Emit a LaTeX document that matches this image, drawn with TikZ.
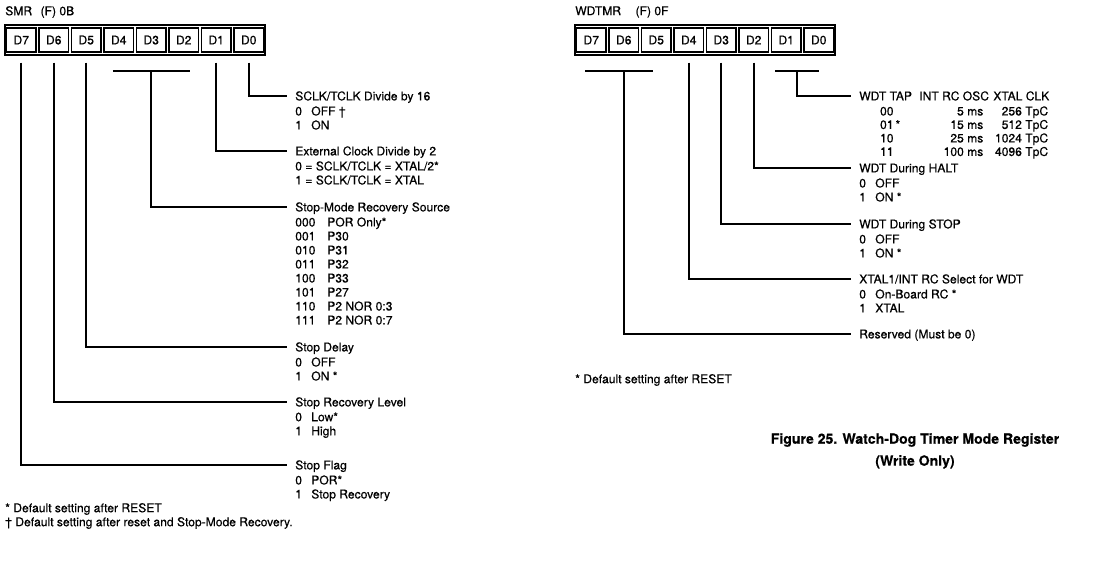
\documentclass[tikz,border=0pt]{standalone}
\usepackage{fontspec}
\setmainfont{TeX Gyre Heros}[FakeBold=0.5]
\usepackage{tikz}
\usetikzlibrary{positioning, calc}

\newcommand{\bitval}[3][0.4cm]{\makebox[#1][l]{#2}#3}
\newcommand{\taprow}[3]{\hspace*{0.52cm}\makebox[1.0cm][l]{#1}\makebox[1.58cm][r]{#2}\makebox[1.62cm][r]{#3}}

\begin{document}
\begin{tikzpicture}[
  x=0.025cm, y=0.025cm,
  font=\fontsize{8.6}{9.96}\selectfont,
  reg/.style={rectangle, draw, line width=1.5pt, minimum width=6.5cm,
              minimum height=0.75cm, inner sep=0pt},
  cell/.style={rectangle, draw, line width=0.9pt, minimum width=0.74cm,
               minimum height=0.6cm, inner sep=0pt},
  wire/.style={line width=1.6pt},
  hdr/.style={anchor=west, inner xsep=0.2cm, inner ysep=0pt,
              text height=6.2pt, text depth=0pt},
  body/.style={anchor=north west, inner xsep=0.2cm, inner ysep=0pt,
               align=left, yshift=-3.9pt},
  note/.style={anchor=west, inner sep=0pt}
]
\useasboundingbox (0,0) rectangle (1100,-567);

\node[note] (smrt) at (5,-12) {SMR\hspace{0.7em}(F) 0B};
\node[note] (wdtt) at (575,-12) {WDTMR\hspace{1.2em}(F) 0F};

\node[reg] (smr) at (135,-40) {};
\node[reg] (wdt) at (705,-40) {};
\foreach \i in {0,...,7} {
  \pgfmathsetmacro{\x}{5 + (7-\i)*32.5 + 16.25}
  \node[cell] (smr\i) at (\x, -40) {D\i};
  \node[cell] (wdt\i) at (\x+570, -40) {D\i};
}

% SMR fields
\node[hdr] (sclk) at (287,-96) {SCLK/TCLK Divide by 16};
\node[body] (sclkv) at (sclk.south west) {\bitval{0}{OFF †}\\ \bitval{1}{ON}};
\node[hdr] (extclk) at (287,-151) {External Clock Divide by 2};
\node[body] (extclkv) at (extclk.south west)
      {0 = SCLK/TCLK = XTAL/2*\\ 1 = SCLK/TCLK = XTAL};
\node[hdr] (smode) at (287,-207) {Stop-Mode Recovery Source};
\node[body] (smodev) at (smode.south west) {%
  \bitval[0.8cm]{000}{POR Only*}\\ \bitval[0.8cm]{001}{P30}\\
  \bitval[0.8cm]{010}{P31}\\ \bitval[0.8cm]{011}{P32}\\
  \bitval[0.8cm]{100}{P33}\\ \bitval[0.8cm]{101}{P27}\\
  \bitval[0.8cm]{110}{P2 NOR 0:3}\\ \bitval[0.8cm]{111}{P2 NOR 0:7}};
\node[hdr] (sdelay) at (287,-347) {Stop Delay};
\node[body] (sdelayv) at (sdelay.south west) {\bitval{0}{OFF}\\ \bitval{1}{ON *}};
\node[hdr] (srec) at (287,-402) {Stop Recovery Level};
\node[body] (srecv) at (srec.south west) {\bitval{0}{Low*}\\ \bitval{1}{High}};
\node[hdr] (sflag) at (287,-465) {Stop Flag};
\node[body] (sflagv) at (sflag.south west) {\bitval{0}{POR*}\\ \bitval{1}{Stop Recovery}};

\node[note] (foot1) at (5,-509) {* Default setting after RESET};
\node[note] (foot2) at (5,-523) {† Default setting after reset and Stop-Mode Recovery.};

\draw[wire] ([yshift=-2.5mm]smr0.south) |- (sclk.west);
\draw[wire] ([yshift=-2.5mm]smr1.south) |- (extclk.west);
\draw[wire] ([shift={(-6,-18)}]smr4.south) -- ([shift={(6,-18)}]smr2.south);
\draw[wire] ([yshift=-4.5mm]smr3.south) |- (smode.west);
\draw[wire] ([yshift=-2.5mm]smr5.south) |- (sdelay.west);
\draw[wire] ([yshift=-2.5mm]smr6.south) |- (srec.west);
\draw[wire] ([yshift=-2.5mm]smr7.south) |- (sflag.west);

% WDTMR fields
\node[hdr] (tap) at (851,-96)
      {\makebox[1.5cm][l]{WDT TAP}\makebox[1.85cm][l]{INT RC OSC}XTAL CLK};
\node[body, font=\fontsize{8.6}{9.6}\selectfont] (tapv) at (tap.south west) {%
  \taprow{00}{5 ms}{256 TpC}\\ \taprow{01\,*}{15 ms}{512 TpC}\\
  \taprow{10}{25 ms}{1024 TpC}\\ \taprow{11}{100 ms}{4096 TpC}};
\node[hdr] (halt) at (851,-168) {WDT During HALT};
\node[body] (haltv) at (halt.south west) {\bitval{0}{OFF}\\ \bitval{1}{ON *}};
\node[hdr] (stop) at (851,-224) {WDT During STOP};
\node[body] (stopv) at (stop.south west) {\bitval{0}{OFF}\\ \bitval{1}{ON *}};
\node[hdr] (xsel) at (851,-279) {XTAL1/INT RC Select for WDT};
\node[body] (xselv) at (xsel.south west) {\bitval{0}{On-Board RC *}\\ \bitval{1}{XTAL}};
\node[hdr] (resv) at (851,-334) {Reserved (Must be 0)};

\node[note] (wfoot) at (575,-380) {* Default setting after RESET};
\node[align=center, font=\fontsize{10}{15.6}\selectfont\bfseries] (cap) at (915,-451)
      {Figure 25. Watch-Dog Timer Mode Register\\ (Write Only)};

\draw[wire] ([shift={(-11,-18)}]wdt1.south) -- ([shift={(0,-18)}]wdt0.south);
\draw[wire] ([shift={(11,-18)}]wdt1.south) |- (tap.west);
\draw[wire] ([yshift=-2.5mm]wdt2.south) |- (halt.west);
\draw[wire] ([yshift=-2.5mm]wdt3.south) |- (stop.west);
\draw[wire] ([yshift=-2.5mm]wdt4.south) |- (xsel.west);
\draw[wire] ([shift={(-6,-18)}]wdt7.south) -- ([shift={(-3,-18)}]wdt5.south);
\draw[wire] ([yshift=-4.5mm]wdt6.south) |- (resv.west);
\end{tikzpicture}
\end{document}
